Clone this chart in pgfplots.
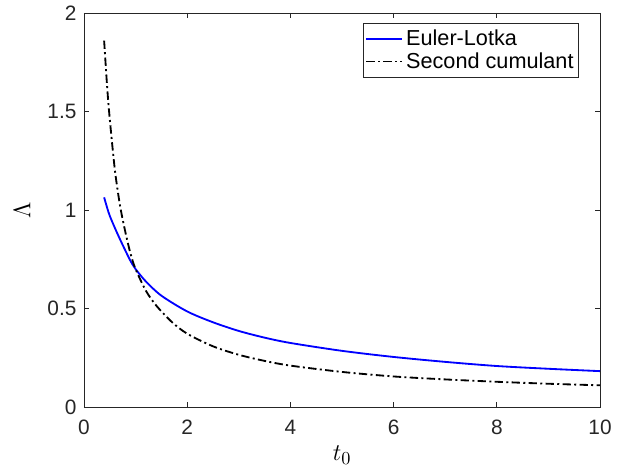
\documentclass[border=0pt]{standalone}
\usepackage{pgfplots}
\pgfplotsset{compat=1.18}
\usepackage{fontspec}
\setmainfont{Liberation Sans}
\definecolor{axgray}{RGB}{38,38,38}
\definecolor{mblue}{RGB}{0,0,255}

\begin{document}
\begin{tikzpicture}
\begin{axis}[
  scale only axis,
  width=309.6pt, height=236.4pt,
  xmin=0, xmax=10, ymin=0, ymax=2,
  xtick={0,2,4,6,8,10},
  ytick={0,0.5,1,1.5,2},
  yticklabels={0,0.5,1,1.5,2},
  tick align=inside,
  major tick length=3pt,
  axis line style={axgray, line width=0.5pt},
  every tick/.style={axgray, line width=0.5pt},
  tick label style={font=\fontsize{12.5}{15}\selectfont, text=axgray},
  /pgf/number format/assume math mode=true,
  xticklabel style={yshift=-4.5pt},
  yticklabel style={xshift=-1pt},
  xlabel={$t_0$},
  ylabel={$\Lambda$},
  label style={font=\fontsize{15}{18}\selectfont},
  xlabel style={at={(axis description cs:0.5,-0.122)}, anchor=center},
  ylabel style={at={(axis description cs:-0.12,0.5)}, anchor=center},
  legend style={at={(1,1)}, anchor=north east, xshift=-12.6pt, yshift=-6pt,
    draw=axgray, line width=0.5pt, font=\fontsize{13}{15}\selectfont,
    inner xsep=1pt, inner ysep=2pt, row sep=-1.5pt},
  legend cell align=left,
  legend image post style={line width=1.1pt},
  legend image code/.code={\draw[#1] (0cm,0cm) -- (0.75cm,0cm);},
]
\coordinate (sw) at (rel axis cs:0,0);
\coordinate (ne) at (rel axis cs:1,1);

\addplot[mblue, line width=1.1pt, smooth] coordinates {
  (0.39,1.064) (0.45,1.010) (0.5,0.970) (0.6,0.908) (0.7,0.850)
  (0.8,0.795) (0.9,0.742) (1.0,0.700) (1.2,0.637) (1.5,0.565)
  (2.0,0.485) (2.5,0.430) (3.0,0.386) (3.5,0.352) (4.0,0.325)
  (5.0,0.285) (6.0,0.254) (7.0,0.229) (8.0,0.208) (9.0,0.194) (10.0,0.182)
};
\addlegendentry{Euler-Lotka}

\addplot[black, line width=1.1pt, smooth,
  dash pattern=on 5pt off 2pt on 1.2pt off 2pt] coordinates {
  (0.39,1.860) (0.45,1.620) (0.5,1.460) (0.6,1.200) (0.7,1.020)
  (0.8,0.890) (0.9,0.780) (1.0,0.700) (1.2,0.590) (1.4,0.515)
  (1.7,0.432) (2.0,0.372) (2.5,0.308) (3.0,0.265) (3.5,0.234)
  (4.0,0.210) (5.0,0.178) (6.0,0.155) (7.0,0.140) (8.0,0.128)
  (9.0,0.118) (10.0,0.110)
};
\addlegendentry{Second cumulant}
\end{axis}
\path (sw) ++(-50.4pt,-37.8pt) coordinate (bl);
\path (ne) ++(17.4pt,7.8pt) coordinate (tr);
\path (bl) rectangle (tr);
\end{tikzpicture}
\end{document}
